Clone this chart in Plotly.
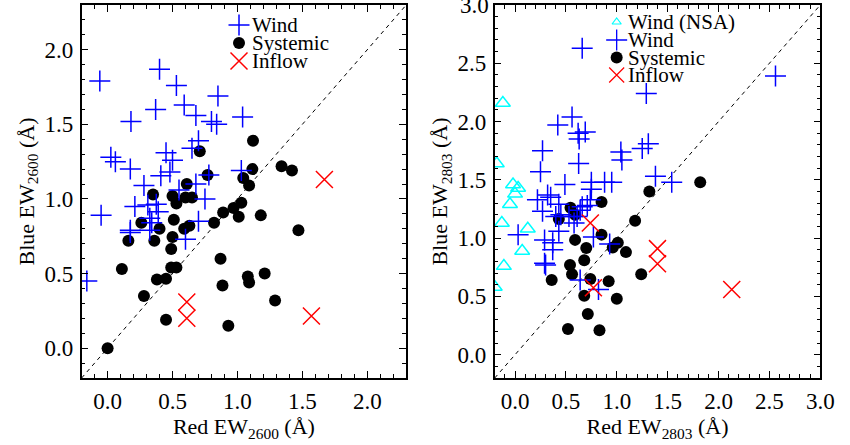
import plotly.graph_objects as go

# ---------------- Left panel (2600) ----------------
wind1_x = [-0.06, 0.40, 0.53, 0.37, 0.85, 0.59, 0.18, 0.68, 0.80, 0.84, 1.04, 0.70, 0.65, 0.45,
           0.025, 0.06, 0.50, 0.175, 0.48, 0.41, 0.78, 1.03, 0.28, 0.68, 0.55, 0.75, 0.21, 0.31,
           0.375, 0.39, -0.05, 0.325, 0.34, 0.175, 0.175, 0.325, 0.70, 0.60, -0.16]
wind1_y = [1.79, 1.87, 1.76, 1.60, 1.69, 1.63, 1.52, 1.56, 1.52, 1.50, 1.55, 1.39, 1.34, 1.31,
           1.28, 1.25, 1.26, 1.20, 1.18, 1.155, 1.16, 1.19, 1.09, 1.10, 1.06, 1.00, 0.95, 0.96,
           0.965, 0.915, 0.89, 0.87, 0.84, 0.79, 0.775, 0.79, 0.85, 0.73, 0.45]

sys1_x = [1.12, 0.71, 0.77, 1.115, 1.34, 1.42, 1.045, 1.09, 0.61, 0.35, 0.50, 0.60, 0.65, 0.53,
          0.89, 0.97, 1.03, 1.01, 1.18, 0.51, 0.82, 0.26, 0.40, 0.59, 0.63, 1.47, 0.16, 0.36,
          0.50, 0.49, 0.11, 0.49, 0.53, 0.38, 0.45, 0.87, 1.08, 1.09, 1.21, 0.885, 0.28, 1.29,
          0.45, 0.93, 0.0]
sys1_y = [1.39, 1.32, 1.16, 1.20, 1.22, 1.19, 1.14, 1.09, 1.10, 1.03, 1.02, 1.01, 1.01, 0.97,
          0.91, 0.94, 0.975, 0.88, 0.89, 0.86, 0.84, 0.84, 0.80, 0.80, 0.82, 0.79, 0.72, 0.72,
          0.745, 0.665, 0.53, 0.54, 0.54, 0.46, 0.465, 0.60, 0.48, 0.44, 0.50, 0.42, 0.35, 0.32,
          0.19, 0.15, 0.0]

inf1_x = [1.67, 0.61, 0.61, 1.57]
inf1_y = [1.13, 0.31, 0.20, 0.215]

# ---------------- Right panel (2803) ----------------
nsa2_x = [-0.12, -0.18, -0.02, 0.03, 0.0, -0.05, -0.13, 0.125, 0.07, -0.11, -0.2]
nsa2_y = [2.16, 1.64, 1.46, 1.43, 1.38, 1.29, 1.13, 1.08, 0.89, 0.76, 0.58]

wind2_x = [0.66, 2.56, 1.29, 0.56, 0.42, 0.62, 0.69, 0.63, 0.27, 1.04, 1.05, 1.25, 1.31, 0.625,
           0.25, 1.38, 1.54, 0.49, 0.75, 0.88, 0.95, 0.75, 0.22, 0.35, 0.43, 0.74, 0.66, 0.32,
           0.27, 0.45, 0.40, 0.61, 0.64, 0.71, 0.53, 0.58, 0.43, 0.03, 0.29, 0.37, 0.37, 0.29,
           0.30, 0.77, 0.93, 0.64, 0.82]
wind2_y = [2.63, 2.39, 2.24, 2.04, 1.97, 1.90, 1.91, 1.85, 1.75, 1.74, 1.67, 1.77, 1.81, 1.64,
           1.57, 1.53, 1.48, 1.46, 1.48, 1.48, 1.48, 1.42, 1.33, 1.35, 1.29, 1.33, 1.27, 1.37,
           1.23, 1.20, 1.185, 1.185, 1.24, 1.28, 1.185, 1.13, 1.06, 1.03, 0.985, 0.96, 0.90, 0.785,
           0.77, 1.01, 0.95, 0.64, 0.56]

sys2_x = [1.82, 1.32, 0.85, 0.545, 0.59, 0.43, 1.18, 0.85, 0.59, 0.70, 0.96, 1.01, 1.09, 0.68,
          0.54, 0.56, 1.24, 0.36, 0.74, 0.92, 0.68, 1.0, 0.715, 0.52, 0.83]
sys2_y = [1.48, 1.40, 1.31, 1.26, 1.20, 1.165, 1.15, 1.03, 0.985, 0.915, 0.92, 0.96, 0.88, 0.81,
          0.77, 0.69, 0.69, 0.64, 0.65, 0.63, 0.505, 0.48, 0.35, 0.22, 0.21]

inf2_x = [0.74, 0.77, 1.40, 1.40, 2.13]
inf2_y = [1.13, 0.575, 0.91, 0.78, 0.56]

diag1 = [-0.2, 2.3]
diag2 = [-0.2, 3.0]

# top tick label of the right y axis (it sits on the page edge, so plotly hides it)
top_tick2 = 3.0

FONT = "Liberation Serif"
BLUE = "#0000ff"
RED = "#ff0000"
CYAN = "#00ffff"

fig = go.Figure()

def plus(x, y, xa, ya, size=15, width=1.5):
    return go.Scatter(x=x, y=y, xaxis=xa, yaxis=ya, mode="markers", showlegend=False,
                      marker=dict(symbol="cross-thin", size=size, color=BLUE,
                                  line=dict(color=BLUE, width=width)))

def dots(x, y, xa, ya, size=12):
    return go.Scatter(x=x, y=y, xaxis=xa, yaxis=ya, mode="markers", showlegend=False,
                      marker=dict(symbol="circle", size=size, color="black", line=dict(width=0)))

def xs(x, y, xa, ya, size=17, width=1.5):
    return go.Scatter(x=x, y=y, xaxis=xa, yaxis=ya, mode="markers", showlegend=False,
                      marker=dict(symbol="x-thin", size=size, color=RED,
                                  line=dict(color=RED, width=width)))

def tris(x, y, xa, ya, size=13, width=1.5):
    return go.Scatter(x=x, y=y, xaxis=xa, yaxis=ya, mode="markers", showlegend=False,
                      marker=dict(symbol="triangle-up-open", size=size, color=CYAN,
                                  line=dict(color=CYAN, width=width)))

# diagonals
fig.add_trace(go.Scatter(x=diag1, y=diag1, xaxis="x", yaxis="y", mode="lines", showlegend=False,
                         line=dict(color="black", width=1, dash="4px,4px")))
fig.add_trace(go.Scatter(x=diag2, y=diag2, xaxis="x2", yaxis="y2", mode="lines", showlegend=False,
                         line=dict(color="black", width=1, dash="4px,4px")))

# left
fig.add_trace(dots(sys1_x, sys1_y, "x", "y"))
fig.add_trace(plus(wind1_x, wind1_y, "x", "y"))
fig.add_trace(xs(inf1_x, inf1_y, "x", "y"))
# right
fig.add_trace(tris(nsa2_x, nsa2_y, "x2", "y2"))
fig.add_trace(dots(sys2_x, sys2_y, "x2", "y2"))
fig.add_trace(plus(wind2_x, wind2_y, "x2", "y2"))
fig.add_trace(xs(inf2_x, inf2_y, "x2", "y2"))

# legend glyphs on a full-page pixel overlay axis
leg_l_x = [243, 243, 243]
leg_l_y = [25, 43, 61]
leg_l_txt = ["Wind", "Systemic", "Inflow"]
leg_r_x = [627, 627, 627, 627]
leg_r_y = [22, 40, 57.5, 75]
leg_r_txt = ["Wind (NSA)", "Wind", "Systemic", "Inflow"]

fig.add_trace(plus([leg_l_x[0]], [leg_l_y[0]], "x3", "y3"))
fig.add_trace(dots([leg_l_x[1]], [leg_l_y[1]], "x3", "y3"))
fig.add_trace(xs([leg_l_x[2]], [leg_l_y[2]], "x3", "y3"))
fig.add_trace(tris([leg_r_x[0]], [leg_r_y[0]], "x3", "y3", size=8, width=1.2))
fig.add_trace(plus([leg_r_x[1]], [leg_r_y[1]], "x3", "y3", size=15, width=1.3))
fig.add_trace(dots([leg_r_x[2]], [leg_r_y[2]], "x3", "y3"))
fig.add_trace(xs([leg_r_x[3]], [leg_r_y[3]], "x3", "y3", size=15, width=1.2))

XD1 = [83 / 850, 413 / 850]
XD2 = [503 / 850, 834 / 850]
YD = [1 - 378 / 445, 1 - 5 / 445]

annots = []
for xx, yy, t in zip(leg_l_x, leg_l_y, leg_l_txt):
    annots.append(dict(x=xx + 11, y=yy, xref="x3", yref="y3", text=t, showarrow=False,
                       xanchor="left", yanchor="middle", font=dict(family=FONT, size=21, color="black")))
for xx, yy, t in zip(leg_r_x, leg_r_y, leg_r_txt):
    annots.append(dict(x=xx + 9, y=yy, xref="x3", yref="y3", text=t, showarrow=False,
                       xanchor="left", yanchor="middle", font=dict(family=FONT, size=21, color="black")))
annots.append(dict(x=XD2[0], y=top_tick2, xref="paper", yref="y2", text=f"{top_tick2:.1f}",
                   showarrow=False, xanchor="right", yanchor="middle", xshift=-4,
                   font=dict(family=FONT, size=23, color="black")))

def ax(rng, domain, title, anchor, is_x):
    return dict(range=rng, domain=domain, anchor=anchor,
                showline=True, linecolor="black", linewidth=1.5, mirror="ticks",
                ticks="inside", ticklen=7, tickwidth=1.2, tickcolor="black",
                tick0=0, dtick=0.5, tickformat=".1f",
                ticklabelstandoff=2,
                minor=dict(ticks="inside", ticklen=4, tickwidth=1.2, tickcolor="black", tick0=0, dtick=0.1),
                showgrid=False, zeroline=False,
                tickfont=dict(family=FONT, size=23, color="black"),
                title=dict(text=title, font=dict(family=FONT, size=22, color="black"),
                           standoff=(3 if is_x else 4)))

fig.update_layout(
    width=850, height=445,
    margin=dict(l=0, r=0, t=0, b=0),
    paper_bgcolor="white", plot_bgcolor="rgba(0,0,0,0)",
    font=dict(family=FONT, size=20, color="black"),
    xaxis=ax([-0.2, 2.3], XD1, "Red EW<sub>2600</sub> (Å)", "y", True),
    yaxis=ax([-0.2, 2.3], YD, "Blue EW<sub>2600</sub> (Å)", "x", False),
    xaxis2=ax([-0.2, 3.0001], XD2, "Red EW<sub>2803</sub> (Å)", "y2", True),
    yaxis2=ax([-0.2, 3.0001], YD, "Blue EW<sub>2803</sub> (Å)", "x2", False),
    xaxis3=dict(domain=[0, 1], range=[0, 850], visible=False, anchor="y3", fixedrange=True),
    yaxis3=dict(domain=[0, 1], range=[445, 0], visible=False, anchor="x3", fixedrange=True),
    annotations=annots,
    showlegend=False,
)

fig.write_html("out.html")
